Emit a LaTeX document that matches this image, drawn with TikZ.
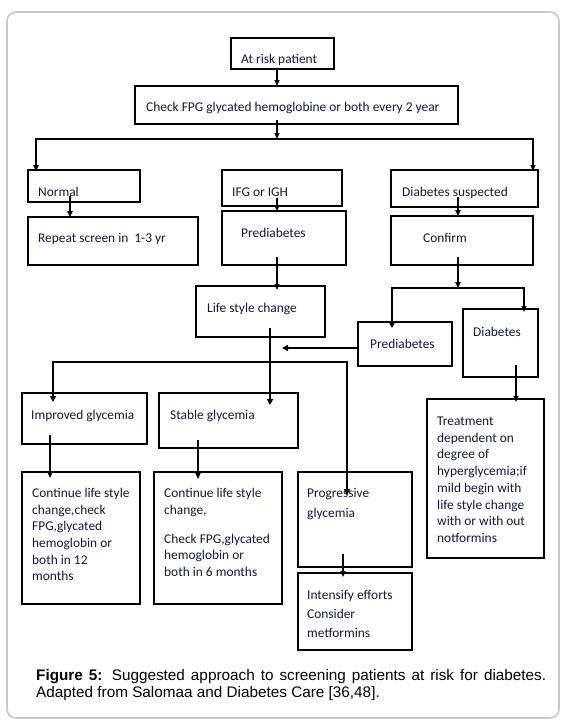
\documentclass[tikz,border=0pt]{standalone}
\usepackage{fontspec}
\setmainfont{Carlito}
\newfontfamily\capfont{Liberation Sans}
\usetikzlibrary{arrows.meta}
\definecolor{txtc}{RGB}{22,22,62}
\definecolor{framec}{RGB}{200,200,200}
\begin{document}
\begin{tikzpicture}[x=1pt,y=-1pt,
 box/.style={draw=black,line width=1.1pt,inner sep=0pt,outer sep=0pt,anchor=north west},
 txt/.style={anchor=base west,inner sep=0pt,text=txtc,font=\fontsize{13.4}{16}\selectfont},
 captxt/.style={anchor=base west,inner sep=0pt,text=black,font=\capfont\fontsize{15.3}{18}\selectfont},
 arrA/.style={line width=1.2pt,-{Triangle[length=6pt,width=5pt]}},
 arrB/.style={line width=2pt,-{Triangle[length=6pt,width=5.5pt]}},
 arrC/.style={line width=2.6pt,-{Triangle[length=6pt,width=6pt]}}
]
\useasboundingbox (0,0) rectangle (565,728);
\draw[framec,line width=1.6pt,rounded corners=9pt] (7,12) rectangle (559,718);

% boxes
\node[box,minimum width=103pt,minimum height=31pt] (atrisk) at (231,38) {};
\node[box,minimum width=323pt,minimum height=38pt] (check) at (135,86) {};
\node[box,minimum width=112pt,minimum height=32pt] (normal) at (28,170) {};
\node[box,minimum width=120pt,minimum height=36pt] (ifg) at (222,170) {};
\node[box,minimum width=147pt,minimum height=37pt] (dsusp) at (391,170) {};
\node[box,minimum width=170pt,minimum height=48pt] (repeat) at (28,217) {};
\node[box,minimum width=124pt,minimum height=54pt] (prediabA) at (222,211) {};
\node[box,minimum width=142pt,minimum height=49pt] (confirm) at (391,216) {};
\node[box,minimum width=129pt,minimum height=51pt] (life) at (196,286) {};
\node[box,minimum width=94pt,minimum height=44pt] (prediabB) at (358,322) {};
\node[box,minimum width=75pt,minimum height=68pt] (diabetes) at (463,309) {};
\node[box,minimum width=125pt,minimum height=51pt] (improved) at (22,393) {};
\node[box,minimum width=139pt,minimum height=55pt] (stable) at (159,393) {};
\node[box,minimum width=117pt,minimum height=159pt] (treatment) at (427,399) {};
\node[box,minimum width=118pt,minimum height=132pt] (contA) at (22,472) {};
\node[box,minimum width=128pt,minimum height=132pt] (contB) at (154,472) {};
\node[box,minimum width=114pt,minimum height=95pt] (progr) at (298,472) {};
\node[box,minimum width=114pt,minimum height=77pt] (intens) at (298,573) {};

% texts
\node[txt] (t-atrisk) at (241,63) {At risk patient};
\node[txt] (t-check) at (146,111) {Check FPG glycated hemoglobine or both every 2 year};
\node[txt] (t-normal) at (38,196) {Normal};
\node[txt] (t-ifg) at (232,196) {IFG or IGH};
\node[txt] (t-dsusp) at (402,196) {Diabetes suspected};
\node[txt] (t-repeat) at (38,242) {Repeat screen in\ \ 1-3 yr};
\node[txt] (t-prediabA) at (241,237) {Prediabetes};
\node[txt] (t-confirm) at (423,242) {Confirm};
\node[txt] (t-life) at (207,312) {Life style change};
\node[txt] (t-prediabB) at (370,348) {Prediabetes};
\node[txt] (t-diabetes) at (473,336) {Diabetes};
\node[txt] (t-improved) at (31,419) {Improved glycemia};
\node[txt] (t-stable) at (170,419) {Stable glycemia};

\node[txt] (t-tr1) at (437,425.5) {Treatment};
\node[txt] (t-tr2) at (437,442.2) {dependent on};
\node[txt] (t-tr3) at (437,458.9) {degree of};
\node[txt] (t-tr4) at (437,475.6) {hyperglycemia;if};
\node[txt] (t-tr5) at (437,492.3) {mild begin with};
\node[txt] (t-tr6) at (437,509) {life style change};
\node[txt] (t-tr7) at (437,525.5) {with or with out};
\node[txt] (t-tr8) at (437,542) {notformins};

\node[txt] (t-ca1) at (32,497.3) {Continue life style};
\node[txt] (t-ca2) at (32,514) {change,check};
\node[txt] (t-ca3) at (32,530.7) {FPG,glycated};
\node[txt] (t-ca4) at (32,547.3) {hemoglobin or};
\node[txt] (t-ca5) at (32,564) {both in 12};
\node[txt] (t-ca6) at (32,580.7) {months};

\node[txt] (t-cb1) at (164,497.3) {Continue life style};
\node[txt] (t-cb2) at (164,514) {change,};
\node[txt] (t-cb3) at (164,543) {Check FPG,glycated};
\node[txt] (t-cb4) at (164,559.7) {hemoglobin or};
\node[txt] (t-cb5) at (164,576.4) {both in 6 months};

\node[txt] (t-pr1) at (307,497.3) {Progressive};
\node[txt] (t-pr2) at (307,517.3) {glycemia};

\node[txt] (t-in1) at (307,599.3) {Intensify efforts};
\node[txt] (t-in2) at (307,618.3) {Consider};
\node[txt] (t-in3) at (307,637.7) {metformins};

% connectors
\coordinate (br) at (277,139);
\coordinate (cj) at (458,288);
\coordinate (pl) at (282,348);
\coordinate (bk) at (200,362);

\draw[arrA] ([xshift=46pt]atrisk.south west) -- ([xshift=142pt]check.north west);
\draw[arrA] ([xshift=142pt,yshift=4pt]check.south west) -- (br);
\draw[arrB] (br) -| ([xshift=8pt,yshift=-1pt]normal.north west);
\draw[arrA] (br) -| ([xshift=-5pt,yshift=-1pt]dsusp.north east);
\draw[arrB] ([xshift=42pt,yshift=6pt]normal.south west) -- ([xshift=42pt]repeat.north west);
\draw[arrB] ([xshift=55pt,yshift=8pt]ifg.south west) -- ([xshift=55pt]prediabA.north west);
\draw[arrB] ([xshift=67pt,yshift=10pt]dsusp.south west) -- ([xshift=67pt]confirm.north west);
\draw[arrA] ([xshift=55pt,yshift=8pt]prediabA.south west) -- ([xshift=81pt,yshift=-4pt]life.north west);
\draw[arrB] ([xshift=67pt,yshift=8pt]confirm.south west) -- (cj);
\draw[arrC] (cj) -| ([xshift=34pt,yshift=-6pt]prediabB.north west);
\draw[arrA] (cj) -| ([xshift=61pt,yshift=-3pt]diabetes.north west);
\draw[arrC] ([xshift=74pt,yshift=9pt]life.south west) -- ([xshift=111pt,yshift=-12pt]stable.north west);
\draw[arrC] ([yshift=18pt]prediabB.south west) -- (pl);
\draw[arrC] (bk) -| ([xshift=31pt,yshift=-9pt]improved.north west);
\draw[arrC] (bk) -| ([xshift=49pt,yshift=-23pt]progr.north west);
\draw[arrA] ([xshift=28pt,yshift=9pt]improved.south west) -- ([xshift=28pt,yshift=-6pt]contA.north west);
\draw[arrA] ([xshift=39pt,yshift=8pt]stable.south west) -- ([xshift=44pt,yshift=-7pt]contB.north west);
\draw[arrA] ([xshift=45pt,yshift=13pt]progr.south west) -- ([xshift=45pt,yshift=-4pt]intens.north west);
\draw[arrA] ([xshift=53pt,yshift=12pt]diabetes.south west) -- ([xshift=89pt,yshift=-3pt]treatment.north west);

% caption
\node[captxt] (cap1) at (36,680) {\makebox[510pt][s]{\textbf{Figure 5:} Suggested approach to screening patients at risk for diabetes.}};
\node[captxt] (cap2) at (36,697) {Adapted from Salomaa and Diabetes Care [36,48].};
\end{tikzpicture}
\end{document}
